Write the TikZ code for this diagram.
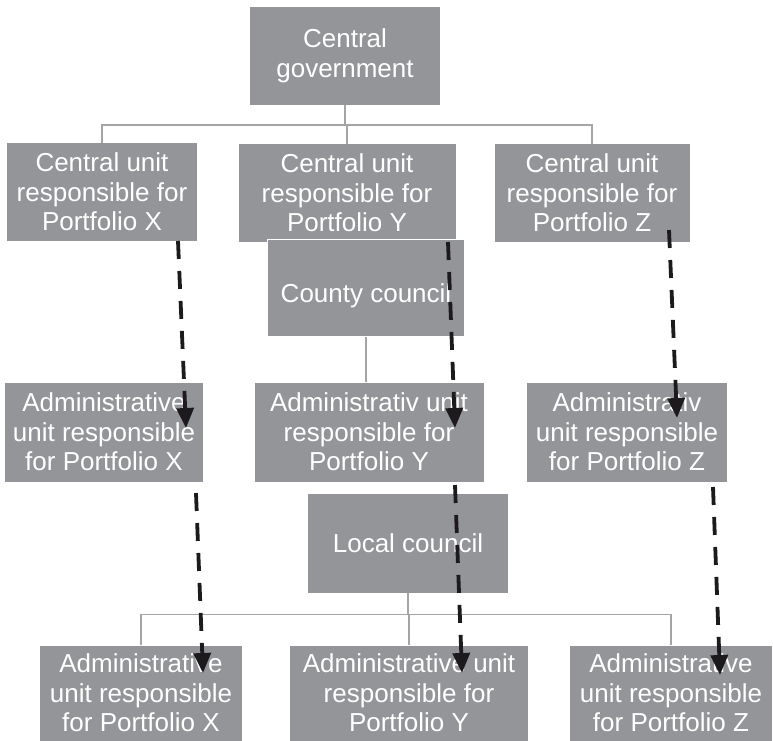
\documentclass[tikz,border=0pt]{standalone}
\usepackage{fontspec}
\setmainfont{Liberation Sans}
\usepackage{xcolor}
\usepackage{tikz}
\usetikzlibrary{arrows.meta}

\definecolor{boxgray}{RGB}{147,149,152}
\definecolor{linegray}{RGB}{165,165,167}
\definecolor{arrowblack}{RGB}{28,26,28}

\tikzset{
  unit/.style={fill=boxgray, text=white, align=center, inner sep=0pt,
    font=\fontsize{26}{29.5}\selectfont},
  tree/.style={draw=linegray, line width=1.5pt},
  flow/.style={draw=arrowblack, line width=3.8pt, dash pattern=on 18pt off 12pt,
    -{Triangle[length=20pt,width=17pt]}}
}

\begin{document}
\begin{tikzpicture}[x=1pt,y=-1pt]
    \useasboundingbox (0,0) rectangle (773,740);
        % top level
    \node[unit, minimum width=190pt, minimum height=98pt] (gov) at (345,56) {Central\\government};
    \node[unit, minimum width=190pt, minimum height=98pt] (cuX) at (102,192) {Central unit\\responsible for\\Portfolio X};
    \node[unit, minimum width=217pt, minimum height=98pt] (cuY) at (347,193) {Central unit\\responsible for\\Portfolio Y};
    \node[unit, minimum width=195pt, minimum height=98pt] (cuZ) at (592,193) {Central unit\\responsible for\\Portfolio Z};
        % county level
    \node[unit, draw=white, line width=1pt, minimum width=197pt, minimum height=97pt] (county) at (366,288)
      {\raisebox{-8pt}[\height][\depth]{County council}};
    \node[unit, minimum width=198pt, minimum height=99pt] (aX) at (104,432) {Administrative\\unit responsible\\for Portfolio X};
    \node[unit, minimum width=229pt, minimum height=99pt] (aY) at (369,432) {Administrativ unit\\responsible for\\Portfolio Y};
    \node[unit, minimum width=200pt, minimum height=99pt] (aZ) at (627,432) {Administrativ\\unit responsible\\for Portfolio Z};
        % local level
    \node[unit, minimum width=200pt, minimum height=99pt] (local) at (408,543) {Local council};
    \node[unit, minimum width=202pt, minimum height=95pt] (bX) at (141,693) {Administrative\\unit responsible\\for Portfolio X};
    \node[unit, minimum width=238pt, minimum height=95pt] (bY) at (409,693) {Administrative unit\\responsible for\\Portfolio Y};
    \node[unit, minimum width=202pt, minimum height=95pt] (bZ) at (671,693) {Administrative\\unit responsible\\for Portfolio Z};

        % draw tree lines
    \draw[tree] (gov.south) -- ++(0,20) coordinate (bus1);
    \foreach \n in {cuX,cuY,cuZ}
    \draw[tree] (bus1) -| (\n.north);
    \draw[tree] (county.south) -- (county.south |- aY.north);
    \draw[tree] (local.south) -- ++(0,22) coordinate (bus2);
    \foreach \n in {bX,bY,bZ}
    \draw[tree] (bus2) -| (\n.north);

        % portfolio flows
    \coordinate (x1) at (178,241);  \coordinate (x2) at (186,428);
    \coordinate (y1) at (448,242);  \coordinate (y2) at (455,428);
    \coordinate (z1) at (669,230);  \coordinate (z2) at (677,418);
    \coordinate (x3) at (196,493);  \coordinate (x4) at (203,673);
    \coordinate (y3) at (455,485);  \coordinate (y4) at (462,673);
    \coordinate (z3) at (713,487);  \coordinate (z4) at (720,675);
    \foreach \a/\b in {x1/x2,y1/y2,z1/z2,x3/x4,y3/y4,z3/z4}
    \draw[flow] (\a) -- (\b);
\end{tikzpicture}
\end{document}
